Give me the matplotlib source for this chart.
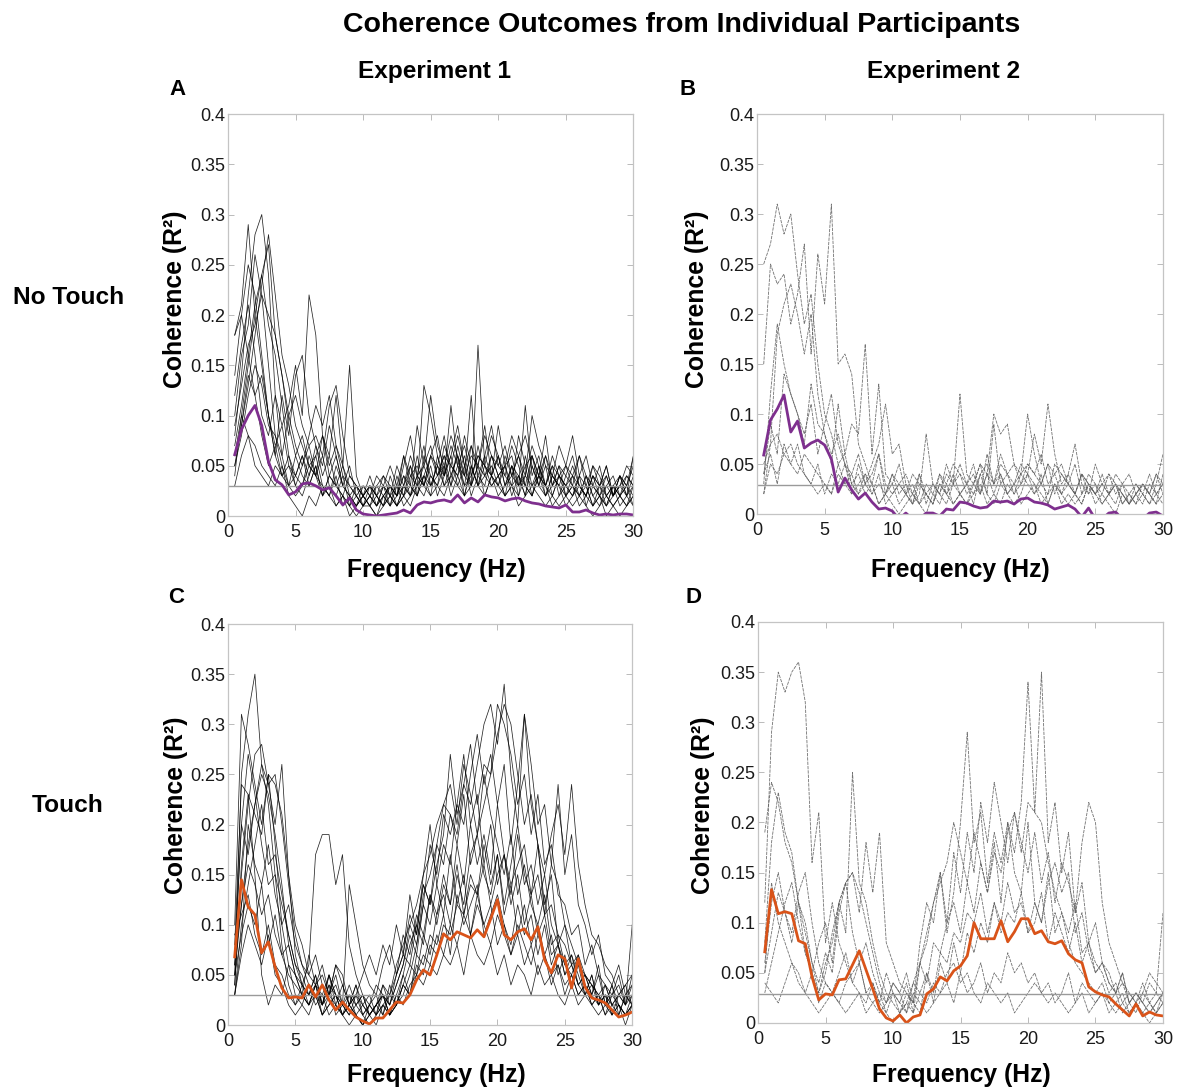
import numpy as np
import matplotlib
matplotlib.use("Agg")
import matplotlib.pyplot as plt

plt.rcParams['font.family'] = ['Liberation Sans', 'DejaVu Sans']

# frequency bins (Hz), 0.5 Hz resolution
freq = np.arange(1, 61) * 0.5

# individual participants, coherence in hundredths of R^2 (one row = 0.5..30 Hz)
exp1_notouch = [
    [8, 14, 22, 28, 30, 24, 12, 6, 3, 2, 3, 5, 4, 2, 3, 1, 2, 1, 0, 1, 1, 0, 1, 2, 1, 3, 2, 4, 3, 2,
     3, 2, 4, 3, 2, 5, 3, 2, 4, 3, 2, 3, 1, 2, 3, 2, 1, 2, 1, 2, 1, 2, 1, 0, 1, 2, 1, 0, 1, 2],
    [18, 21, 29, 20, 15, 10, 6, 4, 5, 3, 2, 4, 6, 3, 2, 5, 3, 2, 1, 2, 1, 2, 1, 3, 2, 5, 8, 4, 3, 6,
     4, 5, 3, 7, 4, 3, 17, 5, 4, 6, 3, 5, 2, 4, 3, 5, 2, 4, 3, 2, 4, 2, 3, 1, 2, 1, 3, 2, 1, 3],
    [4, 10, 15, 20, 24, 27, 18, 14, 9, 6, 8, 5, 4, 6, 3, 2, 4, 1, 2, 1, 2, 1, 3, 1, 2, 4, 2, 6, 3, 5,
     2, 4, 6, 3, 5, 2, 4, 3, 6, 4, 5, 3, 2, 6, 3, 4, 2, 3, 5, 2, 3, 1, 2, 4, 2, 1, 3, 2, 4, 3],
    [12, 17, 21, 16, 10, 8, 12, 9, 11, 15, 10, 22, 18, 8, 5, 7, 4, 3, 2, 1, 3, 2, 1, 2, 3, 1, 2, 3, 4, 2,
     6, 3, 5, 4, 2, 3, 5, 4, 3, 4, 2, 3, 4, 2, 5, 3, 2, 4, 3, 1, 2, 3, 2, 1, 3, 2, 1, 2, 3, 1],
    [6, 9, 14, 12, 8, 5, 7, 4, 6, 3, 5, 7, 4, 8, 6, 12, 5, 15, 4, 2, 3, 2, 4, 3, 2, 6, 3, 9, 5, 12,
     7, 5, 8, 6, 4, 12, 3, 5, 4, 2, 3, 4, 6, 3, 2, 5, 3, 2, 4, 2, 3, 2, 4, 2, 1, 3, 2, 4, 2, 6],
    [10, 16, 19, 26, 22, 15, 8, 5, 3, 4, 6, 3, 5, 2, 4, 3, 2, 1, 3, 2, 1, 3, 2, 1, 4, 2, 5, 3, 13, 10,
     6, 4, 11, 5, 3, 4, 6, 5, 3, 4, 2, 5, 3, 11, 4, 6, 3, 5, 2, 4, 6, 3, 2, 4, 3, 1, 2, 3, 2, 1],
    [5, 8, 12, 15, 13, 9, 8, 6, 10, 12, 9, 7, 8, 6, 11, 13, 8, 4, 3, 2, 3, 2, 1, 4, 2, 3, 5, 2, 6, 4,
     3, 7, 5, 4, 8, 5, 3, 6, 4, 9, 5, 8, 6, 4, 10, 7, 5, 4, 3, 5, 8, 4, 6, 3, 2, 4, 2, 3, 5, 4],
    [3, 6, 8, 7, 5, 4, 3, 5, 2, 1, 0, 2, 1, 3, 2, 1, 2, 0, 1, 2, 1, 0, 2, 1, 3, 2, 1, 3, 2, 4,
     3, 5, 2, 4, 6, 3, 5, 2, 4, 3, 5, 2, 4, 3, 2, 4, 3, 1, 2, 3, 2, 4, 1, 3, 2, 0, 1, 2, 1, 2],
    [14, 20, 25, 22, 16, 10, 6, 12, 8, 14, 16, 10, 7, 4, 6, 3, 2, 4, 3, 2, 4, 2, 3, 2, 1, 2, 4, 3, 5, 3,
     4, 6, 3, 5, 7, 4, 6, 5, 8, 6, 4, 7, 5, 3, 6, 4, 8, 3, 5, 4, 3, 6, 4, 2, 3, 5, 2, 4, 3, 6],
    [9, 13, 17, 19, 22, 20, 18, 14, 10, 7, 5, 8, 11, 9, 12, 7, 5, 3, 2, 1, 2, 1, 2, 3, 1, 2, 3, 2, 4, 6,
     8, 4, 6, 9, 5, 3, 7, 4, 6, 5, 4, 3, 8, 5, 6, 4, 3, 5, 4, 3, 4, 3, 2, 5, 3, 4, 2, 3, 4, 3],
    [18, 20, 16, 12, 14, 10, 7, 9, 5, 4, 3, 6, 4, 3, 2, 4, 1, 2, 3, 1, 2, 1, 3, 2, 1, 3, 2, 4, 7, 3,
     5, 8, 4, 6, 3, 7, 5, 9, 4, 6, 3, 5, 4, 2, 6, 3, 5, 2, 4, 3, 2, 4, 3, 1, 2, 3, 4, 2, 3, 2],
    [7, 11, 16, 21, 24, 19, 16, 11, 6, 4, 6, 4, 7, 5, 9, 6, 3, 5, 2, 3, 2, 3, 4, 2, 5, 3, 6, 4, 5, 7,
     4, 6, 5, 8, 5, 7, 4, 6, 9, 5, 7, 4, 6, 8, 5, 3, 6, 4, 7, 5, 4, 6, 3, 5, 4, 2, 3, 4, 2, 3],
    [5, 9, 13, 18, 23, 28, 22, 16, 13, 9, 7, 5, 6, 8, 4, 3, 5, 2, 1, 2, 3, 1, 2, 3, 2, 4, 3, 2, 4, 3,
     5, 3, 4, 6, 2, 5, 3, 4, 5, 3, 6, 4, 3, 5, 2, 4, 6, 3, 4, 5, 3, 2, 4, 3, 5, 2, 3, 1, 2, 4],
    [6, 10, 8, 5, 4, 3, 5, 4, 3, 6, 4, 3, 5, 2, 4, 6, 3, 2, 1, 3, 2, 4, 3, 5, 3, 6, 4, 5, 3, 6,
     5, 4, 7, 5, 4, 6, 5, 8, 6, 4, 5, 6, 3, 4, 7, 5, 3, 6, 4, 3, 5, 3, 2, 4, 3, 5, 2, 4, 3, 5],
]

exp2_notouch = [
    [25, 27, 31, 28, 30, 24, 19, 22, 15, 10, 8, 5, 6, 3, 4, 2, 3, 1, 2, 1, 0, 1, 2, 1, 0, 2, 1, 3, 1, 2,
     1, 2, 3, 1, 2, 4, 2, 3, 1, 2, 3, 1, 2, 3, 1, 2, 1, 2, 3, 1, 2, 1, 0, 2, 1, 2, 1, 3, 2, 1],
    [15, 25, 23, 24, 19, 22, 27, 16, 26, 21, 31, 15, 16, 14, 7, 5, 3, 6, 2, 4, 3, 2, 1, 3, 2, 1, 4, 2, 3, 2,
     1, 3, 2, 4, 2, 1, 3, 2, 4, 3, 2, 4, 1, 3, 2, 1, 2, 4, 2, 3, 1, 2, 3, 1, 2, 3, 2, 1, 2, 3],
    [3, 12, 19, 15, 12, 10, 7, 13, 9, 8, 5, 11, 6, 9, 8, 17, 6, 13, 4, 3, 5, 2, 4, 3, 2, 1, 3, 2, 4, 2,
     3, 5, 2, 4, 3, 6, 4, 5, 3, 4, 2, 3, 5, 2, 4, 3, 2, 1, 3, 2, 4, 2, 3, 2, 1, 2, 3, 2, 4, 2],
    [5, 7, 8, 6, 7, 5, 4, 3, 2, 3, 2, 4, 3, 2, 5, 3, 2, 4, 1, 2, 3, 2, 1, 4, 2, 3, 2, 1, 3, 12,
     4, 3, 5, 2, 9, 3, 4, 2, 3, 5, 4, 3, 2, 5, 4, 3, 2, 4, 3, 2, 3, 2, 1, 3, 2, 1, 2, 1, 3, 6],
    [4, 9, 6, 14, 12, 10, 8, 11, 6, 9, 12, 7, 5, 4, 6, 3, 5, 7, 11, 6, 7, 3, 2, 4, 1, 3, 2, 5, 3, 4,
     2, 3, 5, 4, 10, 8, 9, 5, 4, 10, 6, 3, 5, 4, 2, 3, 5, 2, 4, 3, 2, 4, 3, 2, 1, 3, 2, 4, 2, 3],
    [2, 5, 4, 6, 5, 7, 4, 3, 5, 2, 4, 3, 5, 2, 3, 4, 2, 3, 2, 4, 2, 3, 1, 2, 8, 3, 2, 4, 3, 5,
     3, 4, 2, 6, 3, 5, 4, 3, 5, 4, 8, 5, 11, 6, 3, 4, 7, 3, 2, 5, 3, 2, 4, 3, 1, 2, 3, 2, 1, 4],
    [2, 7, 18, 21, 23, 20, 16, 20, 12, 8, 6, 8, 5, 3, 2, 4, 3, 1, 2, 3, 1, 2, 3, 1, 2, 1, 3, 2, 1, 2,
     3, 1, 4, 2, 1, 3, 2, 1, 2, 4, 3, 2, 1, 3, 2, 4, 2, 1, 3, 2, 1, 2, 3, 1, 2, 1, 3, 2, 1, 2],
    [4, 6, 3, 7, 5, 4, 6, 5, 4, 3, 2, 5, 3, 4, 2, 3, 4, 6, 3, 2, 3, 4, 2, 1, 3, 2, 4, 3, 5, 4,
     3, 2, 4, 5, 3, 4, 2, 3, 4, 5, 4, 6, 3, 4, 5, 3, 2, 4, 3, 2, 3, 4, 2, 3, 4, 2, 3, 2, 4, 3],
]

exp1_touch = [
    [5, 25, 31, 35, 26, 22, 15, 8, 4, 2, 3, 2, 4, 1, 3, 2, 1, 2, 1, 0, 1, 0, 2, 1, 3, 5, 8, 10, 14, 12,
     18, 16, 21, 19, 24, 22, 26, 30, 32, 28, 34, 25, 20, 31, 22, 18, 12, 15, 8, 10, 6, 4, 5, 3, 2, 3, 1, 2, 1, 3],
    [10, 31, 28, 24, 20, 25, 18, 10, 6, 3, 2, 4, 3, 1, 2, 3, 1, 0, 1, 0, 1, 2, 1, 3, 5, 7, 6, 10, 8, 13,
     11, 15, 12, 18, 14, 20, 16, 19, 15, 22, 17, 13, 19, 14, 16, 12, 15, 10, 8, 6, 7, 5, 3, 4, 2, 3, 1, 2, 0, 2],
    [4, 15, 22, 27, 28, 24, 20, 26, 15, 7, 4, 6, 17, 19, 19, 14, 17, 8, 5, 3, 2, 4, 3, 1, 2, 3, 5, 8, 12, 18,
     15, 21, 19, 22, 27, 20, 23, 16, 20, 14, 17, 12, 15, 10, 13, 9, 11, 7, 8, 5, 6, 4, 3, 5, 2, 3, 2, 1, 3, 2],
    [6, 12, 18, 22, 26, 24, 25, 20, 14, 9, 6, 4, 2, 3, 1, 2, 4, 2, 3, 1, 2, 1, 3, 2, 4, 6, 9, 7, 12, 10,
     14, 18, 16, 22, 20, 25, 29, 24, 27, 22, 26, 18, 24, 31, 26, 20, 22, 16, 14, 10, 8, 6, 5, 4, 3, 2, 4, 2, 1, 2],
    [3, 8, 20, 16, 14, 18, 13, 10, 12, 8, 6, 5, 4, 6, 3, 5, 2, 14, 10, 6, 4, 3, 6, 8, 5, 9, 7, 11, 9, 13,
     10, 14, 12, 16, 11, 15, 13, 18, 14, 17, 12, 16, 20, 15, 13, 18, 11, 16, 24, 15, 19, 12, 10, 7, 9, 5, 4, 6, 3, 4],
    [5, 9, 12, 10, 14, 8, 11, 7, 5, 4, 3, 2, 4, 5, 3, 6, 4, 2, 3, 5, 7, 5, 8, 6, 10, 7, 13, 9, 15, 20,
     14, 11, 17, 12, 15, 9, 13, 10, 12, 8, 10, 7, 9, 6, 8, 5, 7, 4, 6, 3, 5, 3, 4, 2, 3, 1, 3, 2, 1, 2],
    [3, 7, 10, 8, 6, 9, 5, 4, 2, 1, 2, 1, 3, 2, 4, 1, 2, 3, 1, 2, 1, 2, 3, 1, 2, 4, 3, 5, 4, 6,
     5, 7, 6, 8, 5, 9, 7, 6, 8, 5, 7, 4, 6, 5, 3, 6, 4, 5, 3, 2, 4, 2, 3, 2, 1, 2, 1, 3, 2, 10],
    [8, 24, 23, 15, 5, 2, 4, 3, 6, 5, 3, 7, 4, 2, 5, 3, 2, 1, 2, 3, 1, 2, 4, 3, 6, 8, 10, 12, 15, 17,
     20, 22, 21, 18, 23, 16, 19, 15, 13, 17, 11, 14, 9, 12, 8, 10, 7, 9, 5, 7, 4, 6, 3, 5, 2, 4, 2, 3, 4, 5],
    [5, 12, 16, 14, 11, 13, 9, 7, 8, 5, 4, 3, 5, 2, 4, 3, 1, 2, 4, 2, 3, 1, 4, 2, 5, 7, 11, 9, 14, 12,
     16, 19, 27, 21, 24, 28, 22, 26, 25, 32, 30, 27, 22, 25, 19, 23, 16, 18, 13, 12, 9, 10, 6, 8, 5, 4, 3, 5, 2, 4],
    [4, 16, 23, 21, 19, 25, 24, 21, 15, 10, 8, 5, 7, 4, 3, 6, 5, 2, 4, 1, 2, 3, 1, 4, 2, 5, 3, 7, 6, 9,
     8, 11, 7, 13, 10, 12, 14, 9, 11, 13, 10, 8, 12, 9, 11, 7, 10, 6, 8, 5, 7, 4, 5, 3, 6, 2, 4, 1, 3, 2],
    [6, 20, 27, 23, 18, 14, 15, 12, 9, 6, 4, 3, 5, 2, 3, 4, 2, 1, 3, 2, 1, 2, 3, 2, 4, 6, 10, 8, 13, 15,
     18, 22, 24, 20, 26, 23, 19, 25, 21, 18, 15, 19, 13, 16, 12, 10, 13, 8, 9, 6, 5, 7, 4, 3, 5, 2, 3, 4, 2, 3],
    [7, 20, 17, 22, 25, 23, 19, 14, 8, 5, 3, 2, 4, 3, 5, 2, 1, 3, 2, 1, 0, 1, 2, 3, 2, 4, 6, 5, 9, 7,
     11, 13, 10, 15, 12, 17, 19, 22, 25, 29, 32, 30, 25, 20, 23, 18, 15, 19, 22, 17, 24, 16, 12, 9, 8, 6, 5, 3, 4, 2],
    [9, 11, 13, 9, 7, 10, 6, 5, 3, 2, 4, 2, 3, 1, 2, 3, 1, 2, 1, 0, 2, 1, 2, 1, 3, 2, 4, 5, 7, 6,
     9, 7, 10, 8, 11, 9, 12, 10, 8, 11, 9, 7, 10, 8, 6, 9, 7, 5, 6, 4, 5, 3, 4, 2, 3, 1, 2, 2, 1, 2],
    [3, 10, 14, 18, 22, 16, 17, 13, 9, 6, 5, 3, 4, 2, 5, 3, 2, 4, 2, 3, 1, 2, 3, 1, 2, 4, 3, 6, 5, 8,
     7, 10, 9, 12, 11, 14, 13, 16, 12, 15, 17, 14, 16, 18, 13, 15, 11, 12, 9, 8, 6, 7, 5, 4, 3, 4, 2, 3, 2, 5],
]

exp2_touch = [
    [12, 29, 35, 33, 35, 36, 32, 16, 21, 8, 12, 8, 6, 4, 3, 2, 4, 2, 1, 3, 2, 1, 3, 2, 1, 2, 3, 4, 2, 5,
     3, 4, 6, 3, 5, 4, 7, 5, 6, 4, 5, 3, 4, 2, 3, 5, 2, 4, 3, 2, 3, 1, 2, 3, 1, 2, 1, 2, 3, 2],
    [19, 24, 22, 18, 16, 12, 7, 5, 8, 10, 6, 12, 9, 25, 14, 12, 8, 5, 3, 2, 1, 3, 2, 8, 12, 10, 15, 9, 13, 20,
     29, 18, 21, 14, 19, 16, 20, 15, 13, 20, 12, 10, 15, 9, 11, 8, 6, 5, 4, 3, 4, 2, 3, 1, 2, 1, 3, 2, 1, 2],
    [5, 14, 10, 8, 6, 4, 3, 5, 2, 4, 3, 2, 4, 5, 6, 3, 2, 1, 2, 4, 3, 5, 2, 6, 4, 8, 7, 10, 12, 9,
     14, 11, 16, 13, 18, 12, 20, 17, 22, 34, 21, 35, 18, 22, 15, 19, 11, 14, 8, 10, 6, 5, 3, 4, 2, 3, 2, 1, 2, 3],
    [8, 18, 23, 19, 17, 12, 9, 6, 4, 7, 5, 11, 14, 9, 6, 8, 5, 3, 2, 4, 3, 1, 4, 6, 8, 12, 15, 10, 17, 13,
     19, 15, 22, 18, 24, 20, 16, 21, 18, 15, 19, 14, 17, 12, 16, 14, 11, 18, 22, 20, 12, 8, 6, 4, 3, 2, 3, 5, 4, 3],
    [4, 3, 2, 4, 6, 5, 3, 2, 1, 2, 3, 2, 1, 2, 3, 1, 2, 3, 1, 0, 1, 2, 1, 3, 2, 4, 3, 5, 6, 4,
     5, 3, 2, 4, 3, 2, 3, 1, 2, 3, 4, 3, 2, 3, 2, 1, 2, 3, 1, 2, 3, 2, 1, 2, 1, 2, 1, 0, 1, 2],
    [5, 9, 13, 11, 8, 12, 10, 6, 3, 5, 9, 12, 14, 15, 11, 18, 13, 19, 8, 6, 4, 3, 2, 1, 5, 3, 7, 6, 9, 8,
     11, 10, 13, 9, 12, 10, 14, 11, 12, 9, 10, 13, 8, 11, 9, 7, 10, 6, 8, 5, 6, 4, 3, 5, 2, 3, 2, 4, 3, 11],
    [6, 12, 15, 11, 9, 13, 15, 10, 6, 4, 3, 5, 7, 4, 6, 3, 4, 2, 5, 3, 2, 4, 1, 6, 9, 12, 14, 16, 20, 17,
     14, 19, 16, 13, 17, 15, 19, 21, 17, 22, 21, 20, 16, 13, 11, 9, 12, 7, 8, 6, 5, 3, 4, 2, 3, 2, 4, 2, 1, 3],
    [3, 6, 9, 12, 14, 10, 7, 5, 3, 6, 8, 12, 14, 15, 13, 10, 7, 4, 2, 3, 1, 2, 4, 3, 5, 2, 6, 4, 8, 5,
     9, 7, 10, 8, 12, 9, 11, 10, 13, 9, 12, 10, 14, 16, 13, 15, 9, 11, 7, 5, 6, 4, 3, 5, 2, 3, 2, 1, 2, 3],
]

# group means (R^2)
mean_exp1_notouch = [
    0.061, 0.086, 0.100, 0.110, 0.090, 0.054, 0.036, 0.031, 0.021, 0.024,
    0.032, 0.033, 0.030, 0.026, 0.028, 0.020, 0.011, 0.018, 0.006, 0.002,
    0.001, 0.000, 0.001, 0.002, 0.003, 0.006, 0.003, 0.011, 0.014, 0.013,
    0.015, 0.016, 0.014, 0.021, 0.013, 0.018, 0.014, 0.021, 0.019, 0.018,
    0.015, 0.017, 0.018, 0.015, 0.013, 0.012, 0.010, 0.009, 0.008, 0.011,
    0.004, 0.004, 0.006, 0.003, 0.001, 0.002, 0.001, 0.002, 0.002, 0.001]
mean_exp2_notouch = [
    0.059, 0.094, 0.105, 0.119, 0.082, 0.093, 0.066, 0.071, 0.074, 0.069,
    0.055, 0.022, 0.036, 0.024, 0.015, 0.021, 0.012, 0.005, 0.006, 0.003,
    -0.005, 0.001, -0.005, -0.005, 0.001, 0.001, -0.002, 0.005, 0.004, 0.012,
    0.011, 0.008, 0.006, 0.007, 0.013, 0.012, 0.013, 0.010, 0.015, 0.016,
    0.012, 0.011, 0.009, 0.005, 0.007, 0.009, 0.005, -0.003, 0.006, -0.005,
    -0.005, 0.001, 0.002, -0.005, -0.005, -0.005, -0.005, 0.001, 0.002, -0.002]
mean_exp1_touch = [
    0.068, 0.145, 0.118, 0.110, 0.072, 0.083, 0.058, 0.037, 0.027, 0.028,
    0.027, 0.040, 0.028, 0.040, 0.025, 0.015, 0.023, 0.015, 0.008, 0.004,
    0.001, 0.007, 0.007, 0.015, 0.023, 0.022, 0.030, 0.045, 0.055, 0.050,
    0.070, 0.091, 0.085, 0.093, 0.090, 0.087, 0.095, 0.088, 0.106, 0.125,
    0.090, 0.085, 0.093, 0.096, 0.085, 0.098, 0.065, 0.052, 0.070, 0.066,
    0.037, 0.066, 0.038, 0.027, 0.025, 0.022, 0.015, 0.008, 0.010, 0.013]
mean_exp2_touch = [
    0.071, 0.133, 0.109, 0.111, 0.109, 0.082, 0.079, 0.046, 0.023, 0.029,
    0.028, 0.043, 0.044, 0.058, 0.072, 0.053, 0.034, 0.014, 0.005, 0.002,
    0.008, 0.000, 0.006, 0.008, 0.029, 0.034, 0.046, 0.042, 0.052, 0.057,
    0.067, 0.100, 0.084, 0.084, 0.084, 0.102, 0.081, 0.091, 0.104, 0.104,
    0.089, 0.092, 0.081, 0.079, 0.082, 0.069, 0.063, 0.060, 0.036, 0.031,
    0.028, 0.026, 0.019, 0.013, 0.007, 0.019, 0.007, 0.011, 0.008, 0.007]

thresholds = [0.030, 0.029, 0.030, 0.029]
purple = '#7E2F8E'
orange = '#D95319'

fig = plt.figure(figsize=(11.96, 10.9), dpi=100)

panels = [
    # traces, mean, colour, trace colour, axes rect, letter, letter pos, ylabel pos, xlabel pos
    (exp1_notouch, mean_exp1_notouch, purple, 'black', [0.1906, 0.5266, 0.339, 0.3688], 'A', (0.148, 0.918), (-0.131, 0.54), (0.514, -0.134)),
    (exp2_notouch, mean_exp2_notouch, purple, '#5a5a5a', [0.6329, 0.5284, 0.3395, 0.367], 'B', (0.575, 0.918), (-0.148, 0.537), (0.502, -0.14)),
    (exp1_touch, mean_exp1_touch, orange, 'black', [0.1906, 0.0596, 0.338, 0.3679], 'C', (0.147, 0.452), (-0.128, 0.549), (0.515, -0.125)),
    (exp2_touch, mean_exp2_touch, orange, '#5a5a5a', [0.6338, 0.0615, 0.3386, 0.3679], 'D', (0.580, 0.452), (-0.136, 0.544), (0.501, -0.13)),
]

for k, (traces, mean, col, tcol, rect, letter, lpos, ylpos, xlpos) in enumerate(panels):
    ax = fig.add_axes(rect)
    for tr in traces:
        if tcol == 'black':
            ax.plot(freq, np.array(tr) / 100, color=tcol, lw=0.55, alpha=0.85)
        else:
            ax.plot(freq, np.array(tr) / 100, color=tcol, lw=0.6, alpha=0.85, ls=(0, (4, 1.2)))
    ax.axhline(thresholds[k], color='#9a9a9a', lw=1.0)
    ax.plot(freq, mean, color=col, lw=2.0)

    ax.set_xlim(0, 30)
    ax.set_ylim(0, 0.4)
    ax.set_xticks([0, 5, 10, 15, 20, 25, 30])
    ax.set_yticks([0, 0.05, 0.1, 0.15, 0.2, 0.25, 0.3, 0.35, 0.4])
    ax.set_yticklabels(['0', '0.05', '0.1', '0.15', '0.2', '0.25', '0.3', '0.35', '0.4'])
    ax.tick_params(direction='in', length=4, width=0.6, color='#b0b0b0',
                   top=True, right=True, labelsize=13, labelcolor='#1a1a1a')
    ax.tick_params(axis='y', pad=2)
    ax.tick_params(axis='x', pad=6)
    for s in ax.spines.values():
        s.set_color('#c4c4c4')
        s.set_linewidth(0.9)

    ax.set_ylabel('Coherence (R²)', fontsize=17.8, fontweight='bold', va='center')
    ax.yaxis.set_label_coords(*ylpos)
    ax.set_xlabel('Frequency (Hz)', fontsize=17.8, fontweight='bold', va='center')
    ax.xaxis.set_label_coords(*xlpos)

    fig.text(lpos[0], lpos[1], letter, fontsize=16, fontweight='bold', ha='center', va='center')

fig.text(0.570, 0.977, 'Coherence Outcomes from Individual Participants',
         fontsize=20.5, fontweight='bold', ha='center', va='center')
fig.text(0.3637, 0.934, 'Experiment 1', fontsize=17.6, fontweight='bold', ha='center', va='center')
fig.text(0.789, 0.934, 'Experiment 2', fontsize=17.6, fontweight='bold', ha='center', va='center')
fig.text(0.0577, 0.7275, 'No Touch', fontsize=17.6, fontweight='bold', ha='center', va='center')
fig.text(0.0569, 0.2606, 'Touch', fontsize=17.6, fontweight='bold', ha='center', va='center')

fig.savefig('out.png', dpi=100)
